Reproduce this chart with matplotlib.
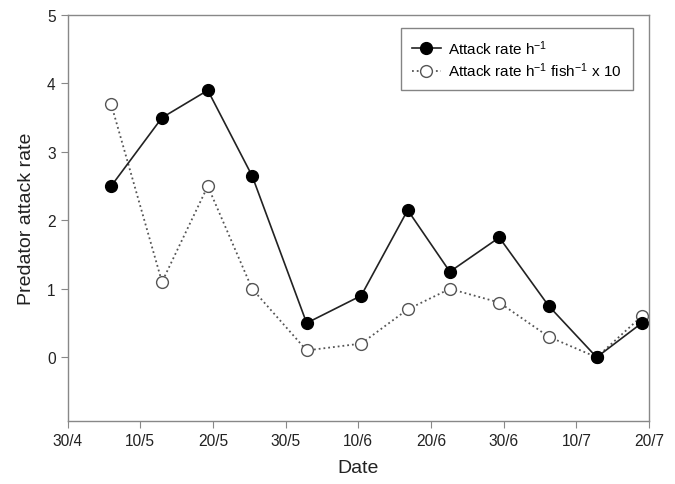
import matplotlib
matplotlib.use('Agg')
import matplotlib.pyplot as plt

plt.rcParams['font.family'] = ['Liberation Sans', 'DejaVu Sans']
plt.rcParams['mathtext.fontset'] = 'custom'
plt.rcParams['mathtext.rm'] = 'Liberation Sans'
plt.rcParams['mathtext.it'] = 'Liberation Sans'

# days after 30/4
days = [6, 13, 19.3, 25.4, 32.9, 40.4, 46.8, 52.6, 59.4, 66.2, 72.8, 79]
attack_rate = [2.5, 3.5, 3.9, 2.65, 0.5, 0.9, 2.15, 1.25, 1.75, 0.75, 0.0, 0.5]
attack_rate_fish = [3.7, 1.1, 2.5, 1.0, 0.1, 0.2, 0.7, 1.0, 0.8, 0.3, 0.0, 0.6]

tick_days = [0, 10, 20, 30, 40, 50, 60, 70, 80]
tick_labels = ['30/4', '10/5', '20/5', '30/5', '10/6', '20/6', '30/6', '10/7', '20/7']

fig = plt.figure(figsize=(6.75, 4.85), dpi=100)
ax = fig.add_axes([0.1, 0.13, 0.8615, 0.837])

ax.plot(days, attack_rate_fish, linestyle=':', color='#555555', linewidth=1.3,
        marker='o', markersize=8.5, markerfacecolor='white', markeredgecolor='#555555',
        markeredgewidth=1.0, label='Attack rate h$^{\\mathregular{-1}}$ fish$^{\\mathregular{-1}}$ x 10')
ax.plot(days, attack_rate, linestyle='-', color='#222222', linewidth=1.2,
        marker='o', markersize=8.5, markerfacecolor='black', markeredgecolor='black',
        label='Attack rate h$^{\\mathregular{-1}}$')

ax.set_xlim(0, 80)
ax.set_ylim(-0.93, 5)
ax.set_xticks(tick_days)
ax.set_xticklabels(tick_labels)
ax.set_yticks([0, 1, 2, 3, 4, 5])

for s in ax.spines.values():
    s.set_color('#888888')
    s.set_linewidth(1.0)
ax.tick_params(direction='out', length=5, color='#888888', labelsize=11.2, labelcolor='#222222')

ax.set_xlabel('Date', fontsize=14, color='#222222', labelpad=8)
ax.set_ylabel('Predator attack rate', fontsize=14, color='#222222', labelpad=9)

h, l = ax.get_legend_handles_labels()
leg = ax.legend(h[::-1], l[::-1], loc='upper right', bbox_to_anchor=(0.985, 0.988),
                fontsize=11, frameon=True, fancybox=False, borderpad=0.7,
                handlelength=1.9, handletextpad=0.5, labelspacing=0.25)
leg.get_frame().set_edgecolor('#666666')
leg.get_frame().set_linewidth(1.0)

fig.savefig('out.png', dpi=100)
